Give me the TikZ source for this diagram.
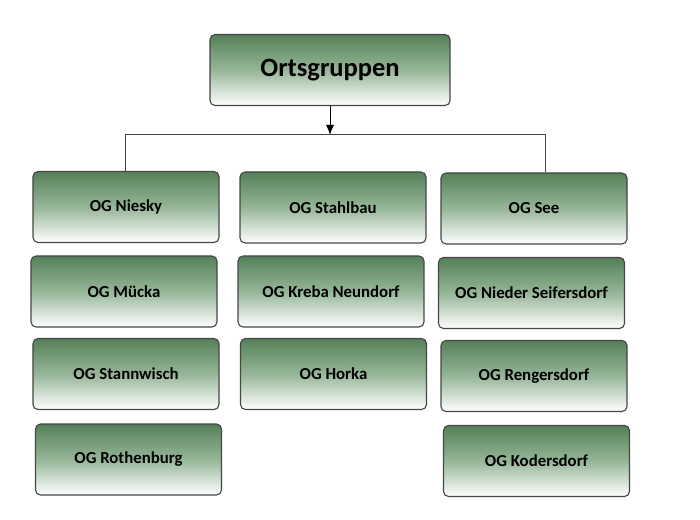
\documentclass[tikz,border=0pt]{standalone}
\usepackage{fontspec}
\setmainfont{Carlito}
\usetikzlibrary{positioning,arrows.meta}
\definecolor{ogGreen}{RGB}{84,128,88}
\definecolor{ogMid}{RGB}{150,182,152}
\definecolor{ogBorder}{RGB}{70,70,70}
\tikzset{
  ogbox/.style={rectangle, rounded corners=5bp, draw=ogBorder, line width=1.1bp,
    top color=ogGreen, bottom color=white, middle color=ogMid, minimum width=186bp, minimum height=71bp,
    font=\fontsize{16.8bp}{20bp}\selectfont\bfseries, inner sep=0pt},
  headbox/.style={ogbox, minimum width=240bp, font=\fontsize{26.5bp}{32bp}\selectfont\bfseries}
}
\begin{document}
\begin{tikzpicture}[x=1bp, y=-1bp]
				\useasboundingbox (0,0) rectangle (700,520);
				\node[headbox] (Orts) at (330,70) {Ortsgruppen};
				
				\node[ogbox] (Niesky) at (126,207) {OG Niesky};
				\node[ogbox] (Muecka) at (124,291.5) {OG Mücka};
				\node[ogbox] (Stannwisch) at (126,374) {OG Stannwisch};
				\node[ogbox] (Rothenburg) at (128.5,459.5) {OG Rothenburg};
				
				\node[ogbox] (Stahlbau) at (333,207.5) {OG Stahlbau};
				\node[ogbox] (Kreba) at (331,291.5) {OG Kreba Neundorf};
				\node[ogbox] (Horka) at (333.5,374) {OG Horka};
				
				\node[ogbox] (See) at (534,208.5) {OG See};
				\node[ogbox] (Seifersdorf) at (531.5,293) {OG Nieder Seifersdorf};
				\node[ogbox] (Rengersdorf) at (534,376) {OG Rengersdorf};
				\node[ogbox] (Kodersdorf) at (536.5,461) {OG Kodersdorf};
				
				\coordinate (BarL) at (125,135);
				\coordinate (BarM) at (330,135);
				\coordinate (BarR) at (545,135);
				
				\draw[-{Latex[length=10bp,width=8bp]}, line width=1bp] (Orts) -- (BarM);
				\draw[line width=1bp, ogBorder] (BarL |- Niesky.north) -- (BarL) -- (BarR) -- (BarR |- See.north);
			\end{tikzpicture}
\end{document}
